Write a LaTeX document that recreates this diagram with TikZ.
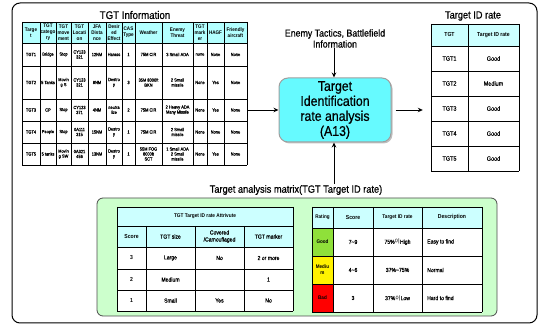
\documentclass[tikz,border=0pt]{standalone}
\usepackage{fontspec}
\setmainfont{Liberation Sans}[FakeStretch=0.88]
\newfontfamily\med{Liberation Sans}[FakeStretch=0.88,FakeBold=0.6]
\newfontfamily\kr{Noto Sans CJK KR}
\usetikzlibrary{arrows.meta,shadows,fit,calc}
\definecolor{hdr}{HTML}{B3FFFF}
\definecolor{hdrb}{HTML}{CCFFFF}
\definecolor{boxc}{HTML}{66FAFF}
\definecolor{greenbg}{HTML}{CCFFCC}
\definecolor{goodc}{HTML}{8FE03A}
\tikzset{
  tl/.style={line width=0.55pt,black},
  arr/.style={line width=0.9pt,-{Stealth[length=5pt,width=4.5pt]}},
  tb/.style={align=center,inner sep=0pt,font=\med\fontsize{4.5}{5}\selectfont},
  th/.style={align=center,inner sep=0pt,font=\bfseries\fontsize{5.2}{6}\selectfont},
  rb/.style={align=center,inner sep=0pt,font=\med\fontsize{6.2}{7}\selectfont},
  rh/.style={align=center,inner sep=0pt,font=\bfseries\fontsize{5.8}{7}\selectfont},
  mb/.style={align=center,inner sep=0pt,font=\med\fontsize{5.8}{7}\selectfont},
  mh/.style={align=center,inner sep=0pt,font=\bfseries\fontsize{5.8}{7}\selectfont},
  ttl/.style={inner sep=0pt,align=center,font=\med\fontsize{10.5}{11.5}\selectfont},
  mainbox/.style={draw=gray!75,line width=1pt,fill=boxc,rounded corners=9pt,
    minimum width=112pt,minimum height=64pt,align=center,inner sep=0pt,
    font=\med\fontsize{14}{15}\selectfont,
    drop shadow={shadow xshift=1.5pt,shadow yshift=-1.5pt,fill=gray,opacity=0.5}},
  tabbox/.style={inner sep=0pt,draw=none}
}
\begin{document}
\begin{tikzpicture}[x=1pt,y=-1pt]
\useasboundingbox (0,0) rectangle (542,326);
% outer frame
\draw[line width=1pt,rounded corners=8pt] (12,3) rectangle (537,323);

% ---------- TGT Information table ----------
\node[ttl,font=\med\fontsize{11}{12}\selectfont] (tgttitle) at (135,15) {TGT Information};
\fill[hdr] (22,22) rectangle (247,43);
\foreach \x in {22,40,56,71,88,106,122,135,162,193,207,224,247} \draw[tl] (\x,22) -- (\x,165);
\foreach \y in {22,43,66,99,121,143,165} \draw[tl] (22,\y) -- (247,\y);
\node[tabbox,fit={(22,22) (247,165)}] (tgtinfo) {};
\def\TX{{31,48,63.5,79.5,97,114,128.5,148.5,177.5,200,215.5,235.5}}
\foreach \t [count=\i] in {{Targe\\t},{TGT\\catego\\ry},{TGT\\move\\ment},{TGT\\Locati\\on},{JFA\\Dista\\nce},{Desir\\ed\\Effect},{CAS\\Type},Weather,{Enemy\\Threat},{TGT\\mark\\er},HAGF,{Friendly\\aircraft}}
  {\pgfmathsetmacro\xx{\TX[\i-1]}\node[th] (h-\i) at (\xx,32.5) {\t};}
\foreach \t [count=\i] in {TGT1,Bridge,Stop,{CY123\\321},12NM,Harass,1,75M CIR,3 Small ADA,none,None,None}
  {\pgfmathsetmacro\xx{\TX[\i-1]}\node[tb] (ra-\i) at (\xx,54.5) {\t};}
\foreach \t [count=\i] in {TGT2,5 Tanks,{Movin\\g S},{CY123\\321},8NM,{Destro\\y},3,{35M 8000ft\\BKN},{2 Small\\missile},None,Yes,None}
  {\pgfmathsetmacro\xx{\TX[\i-1]}\node[tb] (rb-\i) at (\xx,82.5) {\t};}
\foreach \t [count=\i] in {TGT3,CP,Stop,{CY123\\371},4NM,{neutra\\lize},2,75M CIR,{2 Heavy ADA\\Many Missile},None,Yes,None}
  {\pgfmathsetmacro\xx{\TX[\i-1]}\node[tb] (rc-\i) at (\xx,110) {\t};}
\foreach \t [count=\i] in {TGT4,People,Stop,{0A111\\315},15NM,{Destro\\y},1,75M CIR,{2 Small\\missile},None,None,None}
  {\pgfmathsetmacro\xx{\TX[\i-1]}\node[tb] (rd-\i) at (\xx,132) {\t};}
\foreach \t [count=\i] in {TGT5,5 tanks,{Movin\\g SW},{0A321\\456},13NM,{Destro\\y},1,{55M FOG\\8000ft\\SCT},{1 Small ADA\\2 Small\\missile},None,Yes,None}
  {\pgfmathsetmacro\xx{\TX[\i-1]}\node[tb] (re-\i) at (\xx,154) {\t};}

% ---------- centre box ----------
\node[mainbox] (box) at (335,110) {Target\\Identification\\rate analysis\\(A13)};
\node[ttl,font=\med\fontsize{10}{11}\selectfont] (enemy) at (335,38.5) {Enemy Tactics, Battlefield\\Information};

% ---------- Target ID rate table ----------
\node[ttl] (rtitle) at (473,16) {Target ID rate};
\fill[hdrb] (431,24) rectangle (519,46);
\foreach \x in {431,468,519} \draw[tl] (\x,24) -- (\x,171);
\foreach \y in {24,46,71,96,121,146,171} \draw[tl] (431,\y) -- (519,\y);
\node[tabbox,fit={(431,24) (519,171)}] (rtab) {};
\node[rh] (rt-h1) at (449.5,35) {TGT};
\node[rh] (rt-h2) at (493.5,35) {Target ID rate};
\foreach \t/\v [count=\i] in {TGT1/Good,TGT2/Medium,TGT3/Good,TGT4/Good,TGT5/Good}
  {\pgfmathsetmacro\yy{33.5+25*\i}
   \node[rb] (rt-a\i) at (449.5,\yy) {\t};
   \node[rb] (rt-b\i) at (493.5,\yy) {\v};}

% ---------- arrows ----------
\draw[arr] (tgtinfo.east |- box.west) -- (box.west);
\draw[arr] ([xshift=4pt]box.east) -- ([xshift=-8pt]rtab.west |- box.east);
\draw[arr] (enemy.south -| 334,0) -- (334,0 |- box.north);

% ---------- analysis matrix ----------
\node[ttl] (mtitle) at (296,190) {Target analysis matrix(TGT Target ID rate)};
\draw[arr] (334,0 |- mtitle.north) ++(0,-1) -- (334,0 |- box.south);
\draw[line width=0.8pt,draw=gray!60!black,fill=greenbg,rounded corners=6pt] (97,198) rectangle (497,316);

% left matrix table
\fill[white] (117,207) rectangle (293,311);
\fill[hdrb] (117,207) rectangle (293,247);
\foreach \y in {207,226,247,269,290,311} \draw[tl] (117,\y) -- (293,\y);
\foreach \x in {117,293} \draw[tl] (\x,207) -- (\x,311);
\foreach \x in {146,195,244} \draw[tl] (\x,226) -- (\x,311);
\node[mh,font=\bfseries\fontsize{5.4}{6}\selectfont] (la-t) at (205,216.5) {TGT Target ID rate Attrivute};
\node[mh] (la-h1) at (131.5,236.5) {Score};
\node[mb] (la-h2) at (170.5,236.5) {TGT size};
\node[mb] (la-h3) at (219.5,236.5) {Covered\\/Camouflaged};
\node[mb] (la-h4) at (268.5,236.5) {TGT marker};
\node[mh] (la-a1) at (131.5,258) {3};
\node[mb] (la-a2) at (170.5,258) {Large};
\node[mb] (la-a3) at (219.5,258) {No};
\node[mb] (la-a4) at (268.5,258) {2 or more};
\node[mh] (la-b1) at (131.5,279.5) {2};
\node[mb] (la-b2) at (170.5,279.5) {Medium};
\node[mb] (la-b4) at (268.5,279.5) {1};
\node[mh] (la-c1) at (131.5,300.5) {1};
\node[mb] (la-c2) at (170.5,300.5) {Small};
\node[mb] (la-c3) at (219.5,300.5) {Yes};
\node[mb] (la-c4) at (268.5,300.5) {No};

% right matrix table
\fill[white] (312,207) rectangle (482,312);
\fill[hdrb] (312,207) rectangle (482,228);
\fill[goodc] (312,228) rectangle (333,256);
\fill[yellow] (312,256) rectangle (333,284);
\fill[red] (312,284) rectangle (333,312);
\foreach \x in {312,333,373,422,482} \draw[tl] (\x,207) -- (\x,312);
\foreach \y in {207,228,256,284,312} \draw[tl] (312,\y) -- (482,\y);
\node[mh,font=\bfseries\fontsize{5.2}{6}\selectfont] (ra-h1) at (322.5,217.5) {Rating};
\node[mh] (ra-h2) at (353,217.5) {Score};
\node[mh,font=\bfseries\fontsize{5.4}{6}\selectfont] (ra-h3) at (397.5,217.5) {Target ID rate};
\node[mh] (ra-h4) at (452,217.5) {Description};
\node[mh,font=\bfseries\fontsize{5.2}{6}\selectfont] (ra-a1) at (322.5,242) {Good};
\node[mb] (ra-a2) at (353,242) {7\textasciitilde 9};
\node[mb] (ra-a3) at (397.5,242) {75\%{\kr 이}High};
\node[mb,anchor=west] (ra-a4) at (427,242) {Easy to find};
\node[mh,font=\bfseries\fontsize{5.2}{6}\selectfont] (ra-b1) at (322.5,270) {Mediu\\m};
\node[mb] (ra-b2) at (353,270) {4\textasciitilde 6};
\node[mb] (ra-b3) at (397.5,270) {37\%\textasciitilde 75\%};
\node[mb,anchor=west] (ra-b4) at (427,270) {Normal};
\node[mh,font=\bfseries\fontsize{5.2}{6}\selectfont] (ra-c1) at (322.5,298) {Bad};
\node[mb] (ra-c2) at (353,298) {3};
\node[mb] (ra-c3) at (397.5,298) {37\%{\kr 이}Low};
\node[mb,anchor=west] (ra-c4) at (427,298) {Hard to find};
\end{tikzpicture}
\end{document}
